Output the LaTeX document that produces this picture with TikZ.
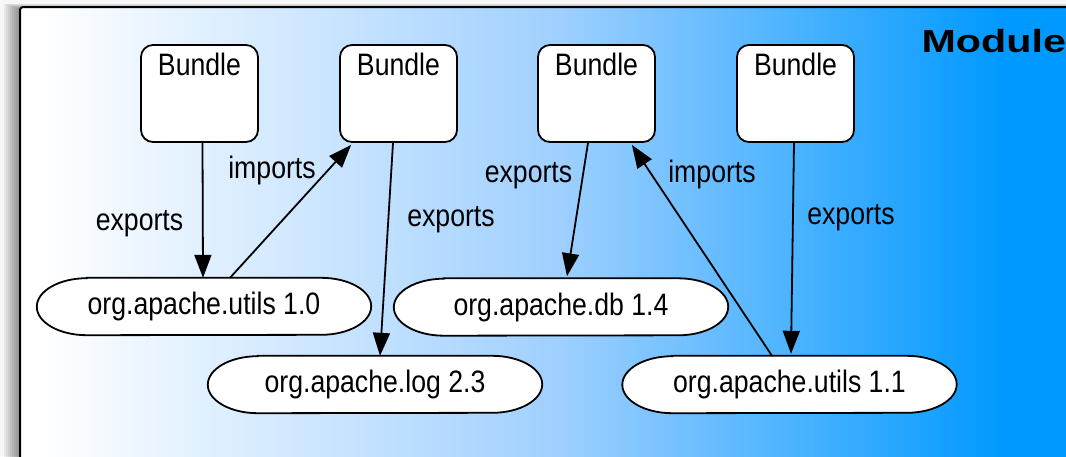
\documentclass[tikz,border=0pt]{standalone}
\usepackage{fontspec}
\setmainfont{Liberation Sans}[FakeStretch=0.86]
\newfontfamily\modulefont{Liberation Sans}[FakeStretch=1.29]
\usetikzlibrary{arrows.meta}
\pgfdeclarelayer{frame}
\pgfdeclarelayer{pills}
\pgfsetlayers{frame,pills,main}
\definecolor{modblue}{RGB}{0,153,255}
\definecolor{modmid}{RGB}{160,208,255}
\pgfdeclarehorizontalshading{modshade}{100bp}{color(0bp)=(white); color(26bp)=(white); color(50bp)=(modmid); color(71bp)=(modblue); color(100bp)=(modblue)}

\begin{document}
\begin{tikzpicture}[x=1pt,y=-1pt,font=\fontsize{31}{37}\selectfont,
        bundlebox/.style={draw,fill=white,line width=1.8pt,rounded corners=12pt,
          minimum width=117pt,minimum height=97pt,inner ysep=0pt,
          text height=30pt,text depth=67pt},
        pkgnode/.style={minimum width=334pt,minimum height=57pt,inner sep=0pt},
        pkgline/.style={draw,fill=white,line width=1.8pt},
        link/.style={line width=1.8pt,-{Triangle[length=23pt,width=17pt]}},
        lbl/.style={anchor=base}]
        \useasboundingbox (0,0) rectangle (1066,456);
        \clip (0,0) rectangle (1066,456);
        \begin{pgfonlayer}{frame}
        \fill[gray!6] (0,0) rectangle (1066,456);
        \foreach \s in {2,4,...,16}
          \fill[black,opacity=0.06] (20-\s,9-\s/3) rectangle (1100,480);
        \shade[draw,line width=2pt,rounded corners=3pt,shading=modshade] (20,7) rectangle (1090,480);
        \end{pgfonlayer}
        \node[anchor=base west,font=\modulefont\bfseries\fontsize{32}{38}\selectfont] (mod) at (918,52) {Module};
        % bundles
        \node[bundlebox] (b1) at (199.5,93.5) {Bundle};
        \node[bundlebox] (b2) at (398.5,93.5) {Bundle};
        \node[bundlebox] (b3) at (596.5,93.5) {Bundle};
        \node[bundlebox] (b4) at (795.5,93.5) {Bundle};
        % packages
        \node[pkgnode] (u10) at (204,306.5) {org.apache.utils 1.0};
        \node[pkgnode] (log) at (375,384.5) {org.apache.log 2.3};
        \node[pkgnode] (db) at (561,307) {org.apache.db 1.4};
        \node[pkgnode] (u11) at (789.5,384.5) {org.apache.utils 1.1};
        \begin{pgfonlayer}{pills}
        \foreach \p in {u10,log,db,u11}
          \path[pkgline] ([xshift=50pt]\p.north west) -- ([xshift=-50pt]\p.north east)
            arc[start angle=90,end angle=-90,x radius=50pt,y radius=28.5pt]
            -- ([xshift=50pt]\p.south west)
            arc[start angle=270,end angle=90,x radius=50pt,y radius=28.5pt] -- cycle;
        \end{pgfonlayer}
        % links
        \draw[link] ([xshift=3pt]b1.south) -- ([xshift=-1pt]u10.north);
        \draw[link] ([xshift=26pt]u10.north) -- ([xshift=12pt,yshift=-2pt]b2.south west);
        \draw[link] ([xshift=-5.5pt]b2.south) -- ([xshift=5pt]log.north);
        \draw[link] ([xshift=-8.5pt]b3.south) -- ([xshift=6pt,yshift=2pt]db.north);
        \draw[link] ([xshift=-17.5pt]u11.north) -- ([xshift=-24pt,yshift=-2pt]b3.south east);
        \draw[link] ([xshift=-1.5pt]b4.south) -- ([xshift=1.5pt,yshift=2pt]u11.north);
        \node[lbl] (ex1) at (139.5,230) {exports};
        \node[lbl] (im1) at (272,178) {imports};
        \node[lbl] (ex2) at (451,226) {exports};
        \node[lbl] (ex3) at (528.5,182) {exports};
        \node[lbl] (im2) at (712,182) {imports};
        \node[lbl] (ex4) at (851,224) {exports};
\end{tikzpicture}
\end{document}
